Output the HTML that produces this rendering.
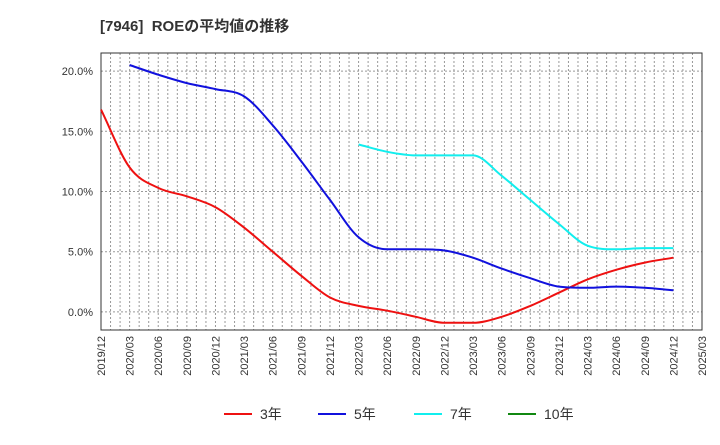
<!DOCTYPE html>
<html><head><meta charset="utf-8"><style>
body{margin:0;background:#fff;font-family:"Liberation Sans","Noto Sans CJK JP",sans-serif}
</style></head><body>
<svg width="720" height="440" xmlns="http://www.w3.org/2000/svg">
<text x="100" y="31" font-size="15" font-weight="bold" fill="#333" style="white-space:pre" font-family="Liberation Sans, Noto Sans CJK JP, sans-serif">[7946]  ROEの平均値の推移</text>
<g id="grid"></g><g id="axes"></g><g id="series"></g><g id="legend"></g>
</svg>
<script>
const xLabels=["2019/12","2020/03","2020/06","2020/09","2020/12","2021/03","2021/06","2021/09","2021/12","2022/03","2022/06","2022/09","2022/12","2023/03","2023/06","2023/09","2023/12","2024/03","2024/06","2024/09","2024/12","2025/03"];
const yTicks=[0,5,10,15,20];
const seriesNames=["3年","5年","7年","10年"];
const seriesColors=["#ee1111","#1111dd","#11eeee","#118811"];
const roe3=[16.8,12.0,10.3,9.6,8.7,7.0,5.0,3.0,1.2,0.5,0.1,-0.4,-0.9,-0.9,-0.4,0.5,1.6,2.7,3.5,4.1,4.5];
const roe5=[null,20.5,19.7,19.0,18.5,17.9,15.5,12.5,9.3,6.2,5.2,5.2,5.1,4.5,3.6,2.8,2.1,2.0,2.1,2.0,1.8];
const roe7=[null,null,null,null,null,null,null,null,null,13.9,13.3,13.0,13.0,13.0,11.3,9.3,7.3,5.5,5.2,5.3,5.3];
const roe10=[];
const L=101,R=702,T=53,B=330;
const yMin=-1.5,yMax=21.5;
const xs=i=>L+(R-L)*i/(xLabels.length-1);
const ys=v=>B-(v-yMin)/(yMax-yMin)*(B-T);
const NS="http://www.w3.org/2000/svg";
function mk(t,a,p){const e=document.createElementNS(NS,t);for(const k in a)e.setAttribute(k,a[k]);p.appendChild(e);return e;}
const grid=document.getElementById('grid'),axes=document.getElementById('axes'),ser=document.getElementById('series'),leg=document.getElementById('legend');
mk('rect',{x:L,y:T,width:R-L,height:B-T,fill:'#fff'},grid);
const months=(xLabels.length-1)*3;
for(let m=1;m<months;m++){const x=L+(R-L)*m/months;
const g=mk('line',{x1:x,x2:x,y1:T,y2:B,stroke:'#999','stroke-dasharray':'2,2','stroke-width':1},grid);

}
yTicks.forEach(v=>{const y=ys(v);
const g=mk('line',{x1:L,x2:R,y1:y,y2:y,stroke:'#999','stroke-dasharray':'2,2'},grid);


const t=mk('text',{x:L-8,y:y+4,'text-anchor':'end','font-size':11,fill:'#333'},axes);
t.textContent=v.toFixed(1)+'%';

});
const fr=mk('rect',{x:L,y:T,width:R-L,height:B-T,fill:'none',stroke:'#333'},axes);


xLabels.forEach((s,i)=>{const x=xs(i);
const t=mk('text',{x:0,y:0,'text-anchor':'end','font-size':11,fill:'#333',transform:`translate(${x+4},${B+6}) rotate(-90)`},axes);
t.textContent=s;

});
function monotonePath(P){
  const n=P.length;if(n<2)return '';
  const d=[],m=[];
  for(let i=0;i<n-1;i++)d.push((P[i+1][1]-P[i][1])/(P[i+1][0]-P[i][0]));
  m[0]=d[0];m[n-1]=d[n-2];
  for(let i=1;i<n-1;i++){m[i]=(d[i-1]*d[i]<=0)?0:(d[i-1]+d[i])/2;}
  for(let i=0;i<n-1;i++){if(d[i]===0){m[i]=0;m[i+1]=0;continue;}
    const a=m[i]/d[i],b=m[i+1]/d[i],s=a*a+b*b;
    if(s>9){const t=3/Math.sqrt(s);m[i]=t*a*d[i];m[i+1]=t*b*d[i];}}
  let s='M'+P[0][0].toFixed(1)+','+P[0][1].toFixed(1);
  for(let i=0;i<n-1;i++){const h=(P[i+1][0]-P[i][0])/3;
    s+=' C'+(P[i][0]+h).toFixed(1)+','+(P[i][1]+m[i]*h).toFixed(1)+' '+(P[i+1][0]-h).toFixed(1)+','+(P[i+1][1]-m[i+1]*h).toFixed(1)+' '+P[i+1][0].toFixed(1)+','+P[i+1][1].toFixed(1);}
  return s;}
[roe3,roe5,roe7,roe10].forEach((d,k)=>{let pts=[];d.forEach((v,i)=>{if(v!==null&&v!==undefined)pts.push([xs(i),ys(v)]);});
if(pts.length<2)return;
const p=mk('path',{d:monotonePath(pts),fill:'none',stroke:seriesColors[k],'stroke-width':2,'stroke-linejoin':'round'},ser);

});
const lx=[224,318,414,508];
seriesNames.forEach((n,k)=>{
const l=mk('line',{x1:lx[k],x2:lx[k]+28,y1:414,y2:414,stroke:seriesColors[k],'stroke-width':2},leg);


const t=mk('text',{x:lx[k]+36,y:419,'font-size':14,fill:'#333'},leg);
t.textContent=n;

});
</script>
</body></html>
